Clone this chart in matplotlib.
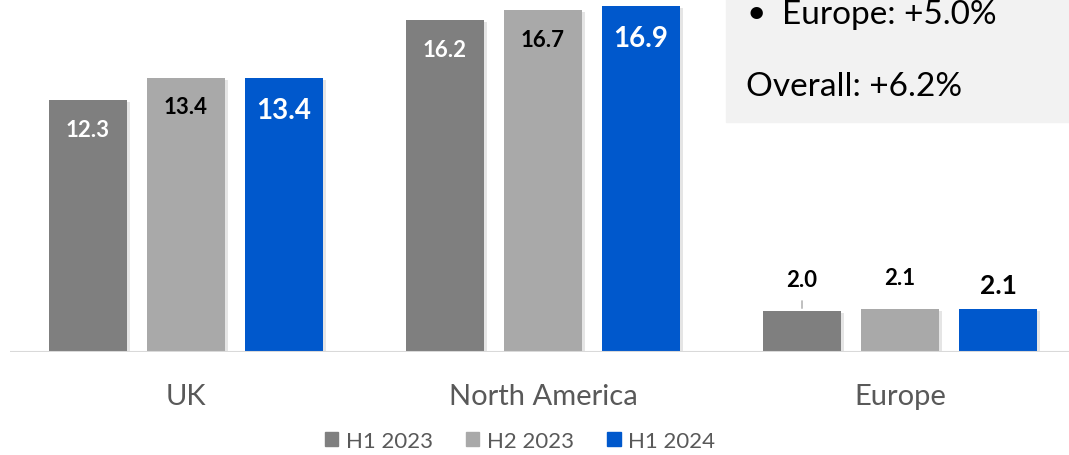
import matplotlib.pyplot as plt
import matplotlib.patheffects as pe
from matplotlib.patches import Patch, Rectangle
import numpy as np

plt.rcParams['font.family'] = ['Lato', 'DejaVu Sans']

regions = ["UK", "North America", "Europe"]
series = ["H1 2023", "H2 2023", "H1 2024"]
h1_2023 = [12.3, 16.2, 2.0]
h2_2023 = [13.4, 16.7, 2.1]
h1_2024 = [13.4, 16.9, 2.1]
colors = ["#7f7f7f", "#a9a9a9", "#0058cc"]
label_colors = ["white", "black", "white"]
label_sizes = [16, 16, 20]
notes = ["Europe: +5.0%", "Overall: +6.2%"]

W, H = 1069, 456
fig = plt.figure(figsize=(W / 100, H / 100), dpi=100)
ax = fig.add_axes([10 / W, (H - 353) / H, 1 - 10 / W, 353 / H])

x = np.arange(len(regions))
width = 0.221
step = 0.2745
shadow = [pe.SimplePatchShadow(offset=(2, -1.5), shadow_rgbFace="#000000", alpha=0.1), pe.Normal()]

for i, vals in enumerate([h1_2023, h2_2023, h1_2024]):
    pos = x + (i - 1) * step
    bars = ax.bar(pos, vals, width=width, color=colors[i], zorder=2)
    for b in bars:
        b.set_path_effects(shadow)
    for j, (p, v) in enumerate(zip(pos, vals)):
        if v > 5:
            ax.annotate(f"{v:.1f}", (p, v), xytext=(0, -29 if i < 2 else -32),
                        textcoords="offset pixels", ha="center", va="center",
                        color=label_colors[i], fontsize=label_sizes[i], fontweight="bold")
        else:
            off = 32 if i < 2 else 24
            ax.annotate(f"{v:.1f}", (p, v), xytext=(0, off), textcoords="offset pixels",
                        ha="center", va="center", color="black",
                        fontsize=label_sizes[i] if i < 2 else 19, fontweight="bold")
            if i == 0:
                ax.annotate("", (p, v), xytext=(0, 13), textcoords="offset pixels",
                            arrowprops=dict(arrowstyle="-", color="#a6a6a6", lw=1))

ax.set_xlim((10 - 186) / 357, (W - 186) / 357)
ax.set_ylim(0, 353 / 20.47)
ax.axhline(0, color="#d9d9d9", lw=1.5, zorder=3)
for s in ax.spines.values():
    s.set_visible(False)
ax.set_yticks([])
ax.set_xticks(x)
ax.set_xticklabels(regions, fontsize=21, color="#595959")
ax.tick_params(axis="x", length=0, pad=22)
ax.patch.set_alpha(0)

handles = [Patch(color=c) for c in colors]
fig.legend(handles, series, loc="center", bbox_to_anchor=(520 / W, 1 - 442 / H), ncol=3,
           frameon=False, fontsize=16, labelcolor="#595959", handlelength=0.6,
           handleheight=0.6, handletextpad=0.35, columnspacing=1.5)

fig.patches.append(Rectangle((726 / W, 1 - 123 / H), 1 - 726 / W, 123 / H,
                             transform=fig.transFigure, color="#f2f2f2", zorder=0))
fig.text(756 / W, 1 - 14 / H, "•", fontsize=24, va="center", ha="center")
fig.text(782 / W, 1 - 15 / H, notes[0], fontsize=24, va="center", ha="left")
fig.text(746 / W, 1 - 87 / H, notes[1], fontsize=24, va="center", ha="left")

fig.savefig("out.png", dpi=100)
